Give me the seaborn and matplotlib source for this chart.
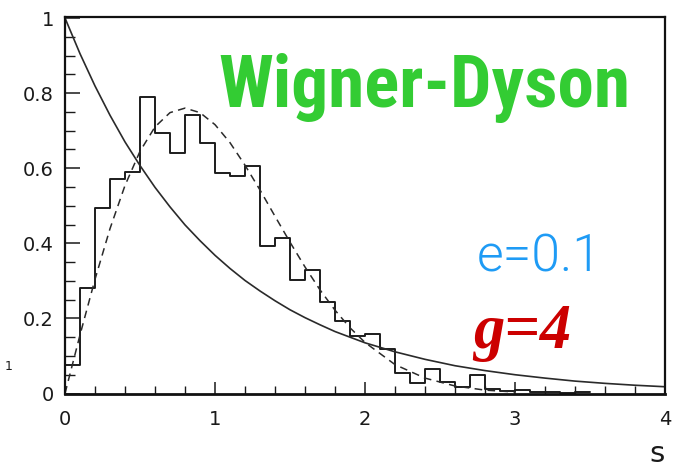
import matplotlib
matplotlib.use("Agg")
import matplotlib.pyplot as plt
import seaborn as sns
from matplotlib import font_manager as fm
from matplotlib.ticker import MultipleLocator

# Level-spacing histogram: bins of width 0.1 starting at s = 0
bin_width = 0.1
bin_starts = [0.0, 0.1, 0.2, 0.3, 0.4, 0.5, 0.6, 0.7, 0.8, 0.9,
              1.0, 1.1, 1.2, 1.3, 1.4, 1.5, 1.6, 1.7, 1.8, 1.9,
              2.0, 2.1, 2.2, 2.3, 2.4, 2.5, 2.6, 2.7, 2.8, 2.9,
              3.0, 3.1, 3.2, 3.3, 3.4]
hist_heights = [0.077, 0.280, 0.495, 0.570, 0.590, 0.790, 0.695, 0.640, 0.743, 0.666,
                0.587, 0.578, 0.605, 0.393, 0.414, 0.303, 0.330, 0.244, 0.194, 0.154,
                0.159, 0.118, 0.055, 0.028, 0.065, 0.030, 0.016, 0.050, 0.013, 0.007,
                0.008, 0.005, 0.004, 0.002, 0.003]

# Poisson curve (solid)
poisson_s = [0.0, 0.1, 0.2, 0.3, 0.4, 0.5, 0.6, 0.7, 0.8, 0.9, 1.0, 1.1, 1.2, 1.3,
             1.4, 1.5, 1.6, 1.7, 1.8, 1.9, 2.0, 2.2, 2.4, 2.6, 2.8, 3.0, 3.2, 3.4,
             3.6, 3.8, 4.0]
poisson_p = [1.000, 0.905, 0.819, 0.741, 0.670, 0.607, 0.549, 0.497, 0.449, 0.407,
             0.368, 0.333, 0.301, 0.273, 0.247, 0.223, 0.202, 0.183, 0.165, 0.150,
             0.135, 0.111, 0.091, 0.074, 0.061, 0.050, 0.041, 0.033, 0.027, 0.022,
             0.018]

# Wigner-Dyson curve (dashed)
wigner_s = [0.0, 0.1, 0.2, 0.3, 0.4, 0.5, 0.6, 0.7, 0.8, 0.9, 1.0, 1.1, 1.2, 1.3,
            1.4, 1.5, 1.6, 1.7, 1.8, 1.9, 2.0, 2.2, 2.4, 2.6, 2.8, 3.0]
wigner_p = [0.000, 0.156, 0.304, 0.439, 0.554, 0.645, 0.710, 0.748, 0.760, 0.748,
            0.716, 0.668, 0.608, 0.542, 0.472, 0.403, 0.337, 0.276, 0.222, 0.175,
            0.136, 0.077, 0.041, 0.020, 0.009, 0.004]

x_ticks = [0, 1, 2, 3, 4]
x_tick_labels = ["0", "1", "2", "3", "4"]
y_ticks = [0, 0.2, 0.4, 0.6, 0.8, 1.0]
y_tick_labels = ["0", "0.2", "0.4", "0.6", "0.8", "1"]


def first_bold_family(candidates):
    bold = {f.name for f in fm.fontManager.ttflist
            if isinstance(f.weight, int) and f.weight >= 700 and f.style == "normal"}
    for name in candidates:
        if name in bold:
            return name
    return "DejaVu Sans"


sns.set_style("white")
plt.rcParams["font.family"] = ["DejaVu Sans"]

W, H = 676, 471
fig = plt.figure(figsize=(W / 100, H / 100), dpi=100)
ax = fig.add_axes([65 / W, 1 - 393.5 / H, 600 / W, 377 / H])

edges = bin_starts + [bin_starts[-1] + bin_width]
centers = [b + bin_width / 2 for b in bin_starts]
sns.histplot(x=centers, weights=hist_heights, bins=edges, element="step",
             fill=False, color="#1c1c1c", linewidth=1.4, ax=ax)
sns.lineplot(x=poisson_s, y=poisson_p, color="#2a2a2a", linewidth=1.2, ax=ax)
sns.lineplot(x=wigner_s, y=wigner_p, color="#2a2a2a", linewidth=1.1,
             linestyle=(0, (5, 3.5)), ax=ax)

ax.set_xlim(0, 4)
ax.set_ylim(0, 1.004)
ax.set_xticks(x_ticks)
ax.set_xticklabels(x_tick_labels)
ax.set_yticks(y_ticks)
ax.set_yticklabels(y_tick_labels)
ax.xaxis.set_minor_locator(MultipleLocator(0.2))
ax.yaxis.set_minor_locator(MultipleLocator(0.05))
ax.tick_params(axis="y", which="major", direction="in", length=11, width=1.1,
               labelsize=14, pad=8, colors="#1a1a1a", left=True, right=False)
ax.tick_params(axis="y", which="minor", direction="in", length=7, width=1.0,
               left=True, right=False, colors="#1a1a1a")
ax.tick_params(axis="x", which="major", direction="in", length=9, width=1.1,
               labelsize=14, pad=12, colors="#1a1a1a", bottom=True, top=False)
ax.tick_params(axis="x", which="minor", direction="in", length=5.5, width=1.0,
               bottom=True, top=False, colors="#1a1a1a")
ax.set_ylabel("")
ax.set_xlabel("s", loc="right", fontsize=21, labelpad=8, color="#1a1a1a")

for side in ["left", "right", "top", "bottom"]:
    ax.spines[side].set_visible(True)
    ax.spines[side].set_color("#111111")
    ax.spines[side].set_linewidth(1.6)
ax.spines["bottom"].set_linewidth(2.0)

renderer = fig.canvas.get_renderer()


def fit_width(text, size, target_px):
    width = text.get_window_extent(renderer).width
    text.set_fontsize(size * target_px / width)


title_family = first_bold_family(["Liberation Sans Narrow", "Arial Narrow", "Roboto Condensed",
                                  "Archivo Narrow", "PT Sans Narrow", "Arimo",
                                  "Liberation Sans"])
title = fig.text(218 / W, 1 - 107 / H, "Wigner-Dyson", fontsize=54, fontweight="bold",
                 family=[title_family, "DejaVu Sans"], color="#33cc33",
                 va="baseline", ha="left")
fit_width(title, 54, 412)

energy = fig.text(477 / W, 1 - 272 / H, "e=0.1", fontsize=36, fontweight=300,
                  family=["Roboto", "DejaVu Sans"], color="#1e9bf5",
                  va="baseline", ha="left")
fit_width(energy, 36, 125)

fig.text(473 / W, 1 - 348 / H, "g=4", fontsize=45, fontweight="bold", fontstyle="italic",
         family=["Liberation Serif", "DejaVu Serif"], color="#cc0000",
         va="baseline", ha="left")
fig.text(5 / W, 1 - 370 / H, "1", fontsize=9, color="#1a1a1a", va="baseline", ha="left")

fig.savefig("out.png", dpi=100, facecolor="white")
